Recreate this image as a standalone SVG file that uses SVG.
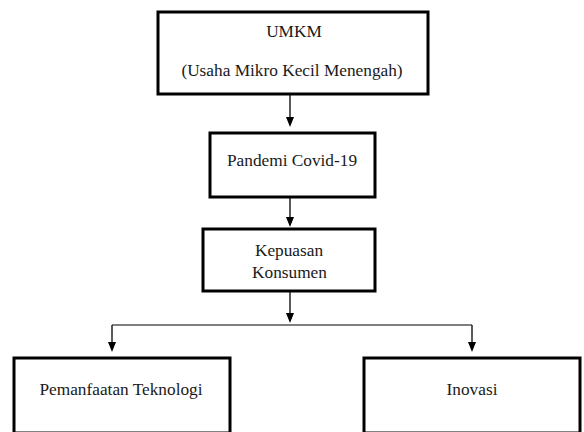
<svg xmlns="http://www.w3.org/2000/svg" width="584" height="432" viewBox="0 0 584 432">
<style>
.box{fill:#fff;stroke:#000;stroke-width:3}
.t{font-family:'Liberation Serif','Times New Roman','DejaVu Serif',serif;font-size:17.3px;fill:#1a1a1a;text-anchor:middle}
.c{stroke:#000;stroke-width:1.3;fill:none}
.h{stroke:#555;stroke-width:1.6;fill:none}
.a{fill:#000}
</style>
<rect width="584" height="432" fill="#fff"/>
<g id="connectors">
<path class="c" d="M290,95 V117"/>
<path class="a" d="M286,117 L294,117 L290,127 Z"/>
<path class="c" d="M290,197 V217"/>
<path class="a" d="M286,217 L294,217 L290,227 Z"/>
<path class="c" d="M290,291 V313"/>
<path class="a" d="M286,313 L294,313 L290,323 Z"/>
<path class="h" d="M112,325 H472"/>
<path class="c" d="M112,325 V342"/>
<path class="a" d="M108,342 L116,342 L112,352 Z"/>
<path class="c" d="M472,325 V342"/>
<path class="a" d="M468,342 L476,342 L472,352 Z"/>
</g>
<g id="umkm">
<rect class="box" x="158" y="12" width="270" height="82"/>
<text class="t" x="294" y="37" font-family="Liberation Serif, serif">UMKM</text>
<text class="t" x="292" y="76" font-family="Liberation Serif, serif">(Usaha Mikro Kecil Menengah)</text>
</g>
<g id="pandemi">
<rect class="box" x="210" y="133" width="165" height="64"/>
<text class="t" x="292" y="166" font-family="Liberation Serif, serif">Pandemi Covid-19</text>
</g>
<g id="kepuasan">
<rect class="box" x="203" y="229" width="172" height="62"/>
<text class="t" x="289" y="256" font-family="Liberation Serif, serif">Kepuasan</text>
<text class="t" x="289.5" y="278" font-family="Liberation Serif, serif">Konsumen</text>
</g>
<g id="teknologi">
<rect class="box" x="14" y="358" width="216" height="75"/>
<text class="t" x="121" y="395" font-family="Liberation Serif, serif">Pemanfaatan Teknologi</text>
</g>
<g id="inovasi">
<rect class="box" x="364" y="358" width="216" height="75"/>
<text class="t" x="472" y="395" font-family="Liberation Serif, serif">Inovasi</text>
</g>
</svg>
